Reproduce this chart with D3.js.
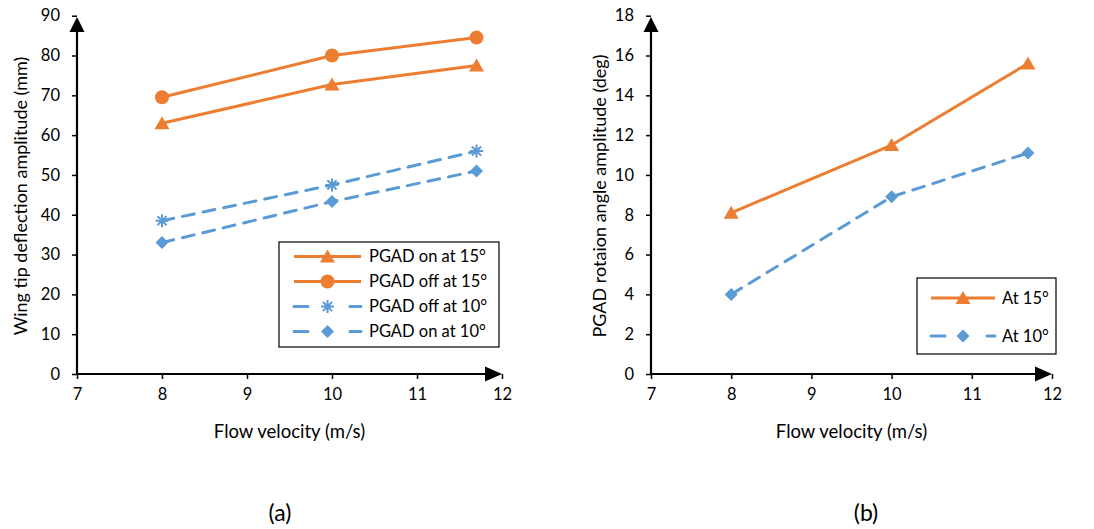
<!DOCTYPE html>
<html><head><meta charset="utf-8">
<script src="https://d3js.org/d3.v7.min.js"></script>
<style>body{margin:0;background:#fff;}svg{display:block;font-family:Lato,"Open Sans",sans-serif;}</style>
</head><body><svg id="c" width="1094" height="529"></svg>
<script>
// ---- data ----
const velocity = [8, 10, 11.7];
const xTicks = [7, 8, 9, 10, 11, 12];
const yTicksA = [0, 10, 20, 30, 40, 50, 60, 70, 80, 90];
const yTicksB = [0, 2, 4, 6, 8, 10, 12, 14, 16, 18];
const pgadOn15 = [63, 72.7, 77.5];
const pgadOff15 = [69.5, 80, 84.5];
const pgadOff10 = [38.5, 47.5, 56];
const pgadOn10 = [33, 43.3, 51];
const rot15 = [8.1, 11.5, 15.6];
const rot10 = [4.0, 8.9, 11.1];
const seriesA = [
  {name: "PGAD on at 15°", values: pgadOn15, color: "#ED7D31", dash: null, marker: "triangle"},
  {name: "PGAD off at 15°", values: pgadOff15, color: "#ED7D31", dash: null, marker: "circle"},
  {name: "PGAD off at 10°", values: pgadOff10, color: "#5B9BD5", dash: "12,9", marker: "asterisk"},
  {name: "PGAD on at 10°", values: pgadOn10, color: "#5B9BD5", dash: "12,9", marker: "diamond"}
];
const seriesB = [
  {name: "At 15°", values: rot15, color: "#ED7D31", dash: null, marker: "triangle"},
  {name: "At 10°", values: rot10, color: "#5B9BD5", dash: "12,9", marker: "diamond"}
];

const svg = d3.select("#c");

function drawMarker(g, type, x, y, color) {
  if (type === "triangle") {
    g.append("path").attr("d", `M${x},${y-7}L${x+7.5},${y+6}L${x-7.5},${y+6}Z`).attr("fill", color);
  } else if (type === "circle") {
    g.append("circle").attr("cx", x).attr("cy", y).attr("r", 7).attr("fill", color);
  } else if (type === "diamond") {
    g.append("path").attr("d", `M${x},${y-6.5}L${x+6.5},${y}L${x},${y+6.5}L${x-6.5},${y}Z`).attr("fill", color);
  } else if (type === "asterisk") {
    const r = 6.5;
    let d = "";
    [0, 45, 90, 135].forEach(a => {
      const rad = a * Math.PI / 180;
      d += `M${x - r*Math.cos(rad)},${y - r*Math.sin(rad)}L${x + r*Math.cos(rad)},${y + r*Math.sin(rad)}`;
    });
    g.append("path").attr("d", d).attr("stroke", color).attr("stroke-width", 2).attr("fill", "none");
  }
}

function panel(cfg) {
  const g = svg.append("g");
  const x = d3.scaleLinear().domain([7, 12]).range([cfg.x0, cfg.x1]);
  const y = d3.scaleLinear().domain([0, cfg.yMax]).range([374, 15.7]);

  const xa = g.append("g").attr("transform", "translate(0,374)")
    .call(d3.axisBottom(x).tickValues(xTicks).tickSize(5).tickPadding(9).tickFormat(d3.format("d")));
  const ya = g.append("g").attr("transform", `translate(${cfg.x0},0)`)
    .call(d3.axisLeft(y).tickValues(cfg.yTicks).tickSize(5).tickPadding(12).tickFormat(d3.format("d")));
  [xa, ya].forEach(a => {
    a.select(".domain").remove();
    a.selectAll(".tick line").attr("stroke", "#000").attr("stroke-width", 1.5);
    a.selectAll(".tick text").attr("font-size", 16.5).attr("fill", "#000").attr("font-family", "Lato, sans-serif");
  });
  // axis lines with arrows
  g.append("line").attr("x1", cfg.x0).attr("x2", x(12) - 12).attr("y1", 374).attr("y2", 374)
    .attr("stroke", "#000").attr("stroke-width", 2.2);
  g.append("path").attr("d", `M${x(12)},374L${x(12)-17},366.5L${x(12)-17},381.5Z`).attr("fill", "#000");
  g.append("line").attr("x1", cfg.x0).attr("x2", cfg.x0).attr("y1", 374).attr("y2", 28)
    .attr("stroke", "#000").attr("stroke-width", 2.2);
  g.append("path").attr("d", `M${cfg.x0},17L${cfg.x0+7.5},32L${cfg.x0-7.5},32Z`).attr("fill", "#000");

  const line = d3.line().x((d, i) => x(velocity[i])).y(d => y(d));
  cfg.series.forEach(s => {
    g.append("path").attr("d", line(s.values)).attr("fill", "none").attr("stroke", s.color)
      .attr("stroke-width", 3).attr("stroke-dasharray", s.dash).attr("stroke-linecap", s.dash ? "round" : "butt")
      .attr("stroke-linejoin", "round");
    s.values.forEach((v, i) => drawMarker(g, s.marker, x(velocity[i]), y(v), s.color));
  });

  // titles
  g.append("text").attr("x", (cfg.x0 + x(12)) / 2).attr("y", 438).attr("text-anchor", "middle")
    .attr("font-size", 18.5).text("Flow velocity (m/s)");
  g.append("text").attr("transform", `translate(${cfg.yTitleX},196) rotate(-90)`).attr("text-anchor", "middle")
    .attr("font-size", 18).text(cfg.yTitle);
  g.append("text").attr("x", cfg.labelX).attr("y", 521).attr("text-anchor", "middle")
    .attr("font-size", 23).text(cfg.label);

  // legend
  const L = cfg.legend;
  g.append("rect").attr("x", L.x).attr("y", L.y).attr("width", L.w).attr("height", L.h)
    .attr("fill", "#fff").attr("stroke", "#000").attr("stroke-width", 1.2);
  cfg.series.forEach((s, i) => {
    const ly = L.rows[i];
    g.append("line").attr("x1", L.lx1).attr("x2", L.lx2).attr("y1", ly).attr("y2", ly)
      .attr("stroke", s.color).attr("stroke-width", 3).attr("stroke-dasharray", s.dash ? "14,21,0,21,14" : null)
      .attr("stroke-linecap", s.dash ? "round" : "butt");
    drawMarker(g, s.marker, (L.lx1 + L.lx2) / 2, ly, s.color);
    g.append("text").attr("x", L.tx).attr("y", ly).attr("dy", "0.35em").attr("font-size", 16.5).text(s.name);
  });
}

panel({x0: 77, x1: 502, yMax: 90, yTicks: yTicksA, series: seriesA,
  yTitle: "Wing tip deflection amplitude (mm)", yTitleX: 27, label: "(a)", labelX: 280,
  legend: {x: 279, y: 242, w: 220, h: 105, rows: [256.5, 281.5, 306.5, 331.5], lx1: 294, lx2: 361, tx: 369}});
panel({x0: 651, x1: 1052, yMax: 18, yTicks: yTicksB, series: seriesB,
  yTitle: "PGAD rotaion angle amplitude (deg)", yTitleX: 606, label: "(b)", labelX: 866,
  legend: {x: 917, y: 278, w: 139, h: 76, rows: [298, 336], lx1: 931, lx2: 995, tx: 1002}});
</script></body></html>
